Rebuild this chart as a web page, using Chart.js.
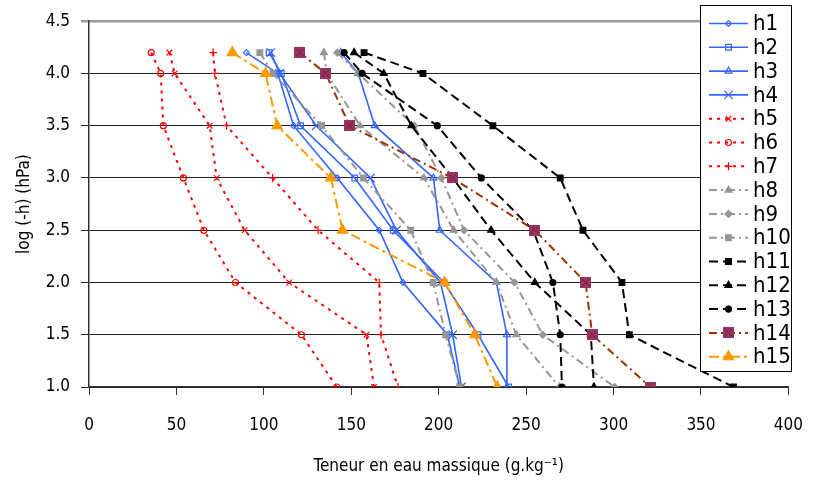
<!DOCTYPE html>
<html>
<head>
<meta charset="utf-8">
<script src="https://cdn.jsdelivr.net/npm/chart.js@4/dist/chart.umd.min.js"></script>
<style>
  html, body { margin: 0; padding: 0; background: #fff; }
</style>
</head>
<body>
<canvas id="graphique" width="823" height="481"></canvas>
<script>
// niveaux de log(-h) communs a toutes les courbes
const niveaux = [4.2, 4.0, 3.5, 3.0, 2.5, 2.0, 1.5, 1.0];

// teneur en eau massique (g/kg) pour chaque horizon
const h1  = [90, 108, 117, 142, 166, 179.6, 205, 212];
const h2  = [103, 110, 121, 152, 174, 203, 222.5, 240];
const h3  = [144, 154, 163.4, 197, 200.6, 233, 239, 239];
const h4  = [104, 109, 130, 161, 175.8, 201, 208, 213];
const h5  = [46, 49, 69, 73, 89, 114.5, 158.7, 163];
const h6  = [35.6, 41, 42.5, 54, 65.7, 83.8, 121.5, 141.7];
const h7  = [71, 72, 78.7, 105, 131, 166, 167, 176.7];
const h8  = [134.3, 136, 155, 191.6, 208.6, 233, 244.4, 269];
const h9  = [142, 154, 186, 201.5, 214.5, 243.4, 259.5, 300.6];
const h10 = [97.7, 105.3, 133, 157, 184, 196.8, 204, 212];
const h11 = [157.3, 191, 231, 269.5, 282.5, 304.8, 309, 368.6];
const h12 = [151.6, 168.6, 184.4, 208, 230, 255, 287, 288.8];
const h13 = [145.9, 156.2, 199.2, 224.4, 254, 265.3, 269.5, 270.5];
const h14 = [120.6, 135.4, 149, 207.8, 255, 284, 287.8, 321];
const h15 = [82, 101, 107.6, 138.3, 145, 203.4, 220.6, 233.5];

const ticksX = [0, 50, 100, 150, 200, 250, 300, 350, 400];
const ticksY = [1.0, 1.5, 2.0, 2.5, 3.0, 3.5, 4.0, 4.5];

const police = "'Liberation Sans Narrow', 'Arial Narrow', 'DejaVu Sans Condensed', sans-serif";

// marqueur carre violet avec une croix (h14)
const carreCroix = document.createElement('canvas');
carreCroix.width = 11; carreCroix.height = 11;
(function() {
    const c = carreCroix.getContext('2d');
    c.fillStyle = '#993366';
    c.fillRect(0, 0, 11, 11);
    c.strokeStyle = '#7a1f1f';
    c.lineWidth = 1;
    c.beginPath();
    c.moveTo(2, 2); c.lineTo(9, 9);
    c.moveTo(9, 2); c.lineTo(2, 9);
    c.stroke();
})();

function serie(label, xs, couleur, tirets, style, rayon, plein, epaisseur) {
    return {
        label: label,
        data: niveaux.map((y, i) => ({ x: xs[i], y: y })),
        borderColor: couleur,
        borderWidth: epaisseur,
        borderDash: tirets,
        showLine: true,
        fill: false,
        pointStyle: style,
        pointRadius: rayon,
        pointBorderColor: couleur,
        pointBackgroundColor: plein ? couleur : 'rgba(0,0,0,0)',
        pointBorderWidth: 1.2
    };
}

const bleu = '#3366FF', rouge = '#FF0000', gris = '#969696', noir = '#000000';
const pointilles = [3, 5];
const mixte = [8, 4, 2, 4];
const tiretsNoirs = [9, 5];

const datasets = [
    serie('h1', h1, bleu, [], 'rectRot', 3, false, 1.6),
    serie('h2', h2, bleu, [], 'rect', 4, false, 1.6),
    serie('h3', h3, bleu, [], 'triangle', 4, false, 1.6),
    serie('h4', h4, bleu, [], 'crossRot', 6, false, 1.6),
    serie('h5', h5, rouge, pointilles, 'crossRot', 4, false, 2),
    serie('h6', h6, rouge, pointilles, 'circle', 3, false, 2),
    serie('h7', h7, rouge, pointilles, 'cross', 4, false, 2),
    serie('h8', h8, gris, mixte, 'triangle', 4, true, 2),
    serie('h9', h9, gris, mixte, 'rectRot', 3.5, true, 2),
    serie('h10', h10, gris, mixte, 'rect', 4, true, 2),
    serie('h11', h11, noir, tiretsNoirs, 'rect', 4, true, 2),
    serie('h12', h12, noir, tiretsNoirs, 'triangle', 4, true, 2),
    serie('h13', h13, noir, tiretsNoirs, 'circle', 3, true, 2),
    serie('h14', h14, '#993300', mixte, carreCroix, 6, true, 2),
    serie('h15', h15, '#FF9900', [10, 4, 3, 4], 'triangle', 6, true, 2)
];
// comme dans Excel : la derniere serie passe au-dessus
datasets.forEach((d, i) => { d.order = 20 - i; });

// legende dessinee a la main, posee sur le graphique
const legendeExcel = {
    id: 'legendeExcel',
    afterDraw(chart) {
        const ctx = chart.ctx;
        ctx.save();
        ctx.fillStyle = '#fff';
        ctx.fillRect(700, 5, 91, 366);
        ctx.strokeStyle = '#000';
        ctx.lineWidth = 1;
        ctx.strokeRect(700.5, 5.5, 91, 366);
        chart.data.datasets.forEach((ds, i) => {
            const y = 23.5 + i * 23.8;
            ctx.strokeStyle = ds.borderColor;
            ctx.lineWidth = ds.borderWidth;
            ctx.setLineDash(ds.borderDash);
            ctx.beginPath();
            ctx.moveTo(709, y);
            ctx.lineTo(748, y);
            ctx.stroke();
            ctx.setLineDash([]);
            ctx.fillStyle = ds.pointBackgroundColor;
            ctx.strokeStyle = ds.pointBorderColor;
            ctx.lineWidth = ds.pointBorderWidth;
            Chart.helpers.drawPoint(ctx, {
                pointStyle: ds.pointStyle,
                radius: ds.pointRadius,
                rotation: 0,
                borderWidth: ds.pointBorderWidth
            }, 728.5, y);
            ctx.fillStyle = '#000';
            ctx.font = '22px ' + police;
            ctx.textBaseline = 'middle';
            ctx.textAlign = 'left';
            ctx.fillText(ds.label, 753, y + 1);
        });
        ctx.restore();
    }
};

new Chart(document.getElementById('graphique'), {
    type: 'scatter',
    data: { datasets: datasets },
    options: {
        responsive: false,
        animation: false,
        layout: { padding: { left: 14, top: 19, right: 34, bottom: 0 } },
        plugins: {
            legend: { display: false },
            tooltip: { enabled: false }
        },
        scales: {
            x: {
                type: 'linear',
                min: 0,
                max: 400,
                afterBuildTicks: (s) => { s.ticks = ticksX.map(v => ({ value: v })); },
                afterFit: (s) => { s.height = 94; },
                ticks: {
                    color: '#000',
                    font: { family: police, size: 17 },
                    padding: 20,
                    callback: (v) => v
                },
                grid: {
                    drawOnChartArea: false,
                    drawTicks: true,
                    tickLength: 8,
                    color: '#333'
                },
                border: { color: '#333', width: 1.5 },
                title: {
                    display: true,
                    text: 'Teneur en eau massique (g.kg\u207B\u00B9)',
                    color: '#000',
                    font: { family: police, size: 17 },
                    padding: { top: 0, bottom: 4 }
                }
            },
            y: {
                type: 'linear',
                min: 1,
                max: 4.5,
                afterBuildTicks: (s) => { s.ticks = ticksY.map(v => ({ value: v })); },
                afterFit: (s) => { s.width = 75; },
                ticks: {
                    color: '#000',
                    font: { family: police, size: 17 },
                    padding: 11,
                    callback: (v) => Number(v).toFixed(1)
                },
                grid: {
                    drawTicks: true,
                    tickLength: 8,
                    color: (c) => (c.tick && c.tick.value === 4.5) ? '#999' : '#222',
                    lineWidth: (c) => (c.tick && c.tick.value === 4.5) ? 2.5 : 1
                },
                border: { color: '#333', width: 1.5 },
                title: {
                    display: true,
                    text: 'log (-h) (hPa)',
                    color: '#000',
                    font: { family: police, size: 17 },
                    padding: { top: 0, bottom: 0 }
                }
            }
        }
    },
    plugins: [legendeExcel]
});
</script>
</body>
</html>
